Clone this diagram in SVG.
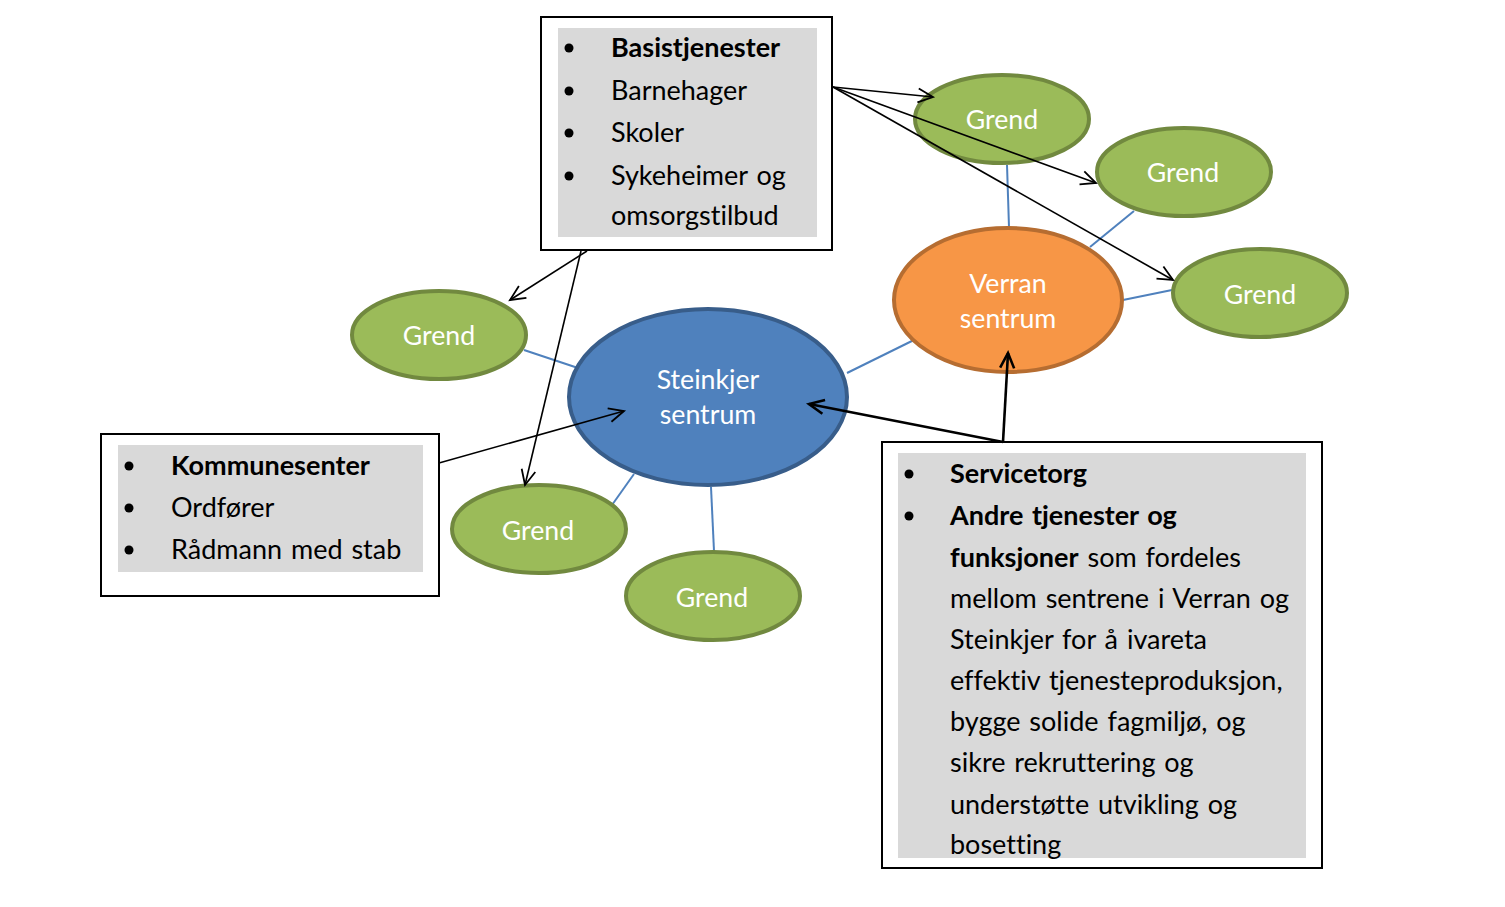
<svg xmlns="http://www.w3.org/2000/svg" width="1505" height="907" viewBox="0 0 1505 907">
<defs>
<marker id="ah" markerUnits="userSpaceOnUse" markerWidth="20" markerHeight="20" refX="16" refY="8" orient="auto" viewBox="0 0 20 16">
<path d="M1,1 L16,8 L1,15" fill="none" stroke="#000" stroke-width="1.8"/>
</marker>
<marker id="ah2" markerUnits="userSpaceOnUse" markerWidth="20" markerHeight="20" refX="16" refY="8" orient="auto" viewBox="0 0 20 16">
<path d="M1,1 L16,8 L1,15" fill="none" stroke="#000" stroke-width="2.6"/>
</marker>
</defs>
<style>
.box{fill:#fff;stroke:#000;stroke-width:2}
.gray{fill:#d9d9d9}
.t{font-family:Lato,"Liberation Sans",sans-serif;font-size:27px;word-spacing:2px;fill:#000;font-variant-ligatures:none}
.b{font-weight:bold}
.bul{fill:#000}
.grend{fill:#9bbb59;stroke:#71893f;stroke-width:4}
.st{fill:#4f81bd;stroke:#385d8a;stroke-width:4}
.vr{fill:#f79646;stroke:#b66d31;stroke-width:4}
.wt{font-family:Lato,"Liberation Sans",sans-serif;font-size:26.7px;fill:#fff;text-anchor:middle}
.blue{stroke:#4f81bd;stroke-width:2;fill:none}
.arr{stroke:#000;stroke-width:1.6;fill:none;marker-end:url(#ah)}
.arr2{stroke:#000;stroke-width:2.6;fill:none;marker-end:url(#ah2)}
</style>
<rect width="1505" height="907" fill="#fff"/>
<g id="connectors-blue">
<line class="blue" x1="524" y1="350" x2="578" y2="368"/>
<line class="blue" x1="612" y1="505" x2="634" y2="474"/>
<line class="blue" x1="711" y1="487" x2="714" y2="551"/>
<line class="blue" x1="847" y1="373" x2="920" y2="337"/>
<line class="blue" x1="1007" y1="165" x2="1009" y2="227"/>
<line class="blue" x1="1134" y1="211" x2="1090" y2="247"/>
<line class="blue" x1="1123" y1="300" x2="1172" y2="290"/>
</g>
<g id="steinkjer">
<ellipse class="st" cx="708" cy="397" rx="139" ry="88"/>
<text class="wt" x="708" y="389">Steinkjer</text>
<text class="wt" x="708" y="424">sentrum</text>
</g>
<g id="verran">
<ellipse class="vr" cx="1008" cy="300" rx="114" ry="72"/>
<text class="wt" x="1008" y="293">Verran</text>
<text class="wt" x="1008" y="328">sentrum</text>
</g>
<g id="grend1"><ellipse class="grend" cx="1002" cy="119" rx="87" ry="44"/><text class="wt" x="1002" y="129">Grend</text></g>
<g id="grend2"><ellipse class="grend" cx="1184" cy="172" rx="87" ry="44"/><text class="wt" x="1183" y="182">Grend</text></g>
<g id="grend3"><ellipse class="grend" cx="1260" cy="293" rx="87" ry="44"/><text class="wt" x="1260" y="304">Grend</text></g>
<g id="grend4"><ellipse class="grend" cx="439" cy="335" rx="87" ry="44"/><text class="wt" x="439" y="345">Grend</text></g>
<g id="grend5"><ellipse class="grend" cx="539" cy="529" rx="87" ry="44"/><text class="wt" x="538" y="540">Grend</text></g>
<g id="grend6"><ellipse class="grend" cx="713" cy="596" rx="87" ry="44"/><text class="wt" x="712" y="607">Grend</text></g>
<g id="box-basis">
<rect class="box" x="541" y="17" width="291" height="233"/>
<rect class="gray" x="558" y="28" width="259" height="209"/>
<circle class="bul" cx="569" cy="48" r="4.5"/>
<circle class="bul" cx="569" cy="91" r="4.5"/>
<circle class="bul" cx="569" cy="133" r="4.5"/>
<circle class="bul" cx="569" cy="176" r="4.5"/>
<text class="t b" x="611" y="57">Basistjenester</text>
<text class="t" x="611" y="100">Barnehager</text>
<text class="t" x="611" y="142">Skoler</text>
<text class="t" x="611" y="185">Sykeheimer og</text>
<text class="t" x="611" y="225">omsorgstilbud</text>
</g>
<g id="box-kommune">
<rect class="box" x="101" y="434" width="338" height="162"/>
<rect class="gray" x="118" y="445" width="305" height="127"/>
<circle class="bul" cx="129" cy="466" r="4.5"/>
<circle class="bul" cx="129" cy="508" r="4.5"/>
<circle class="bul" cx="129" cy="550" r="4.5"/>
<text class="t b" x="171" y="475">Kommunesenter</text>
<text class="t" x="171" y="517">Ordfører</text>
<text class="t" x="171" y="559">Rådmann med stab</text>
</g>
<g id="box-service">
<rect class="box" x="882" y="442" width="440" height="426"/>
<rect class="gray" x="898" y="453" width="408" height="405"/>
<circle class="bul" cx="909" cy="474" r="4.5"/>
<circle class="bul" cx="909" cy="516" r="4.5"/>
<text class="t b" x="950" y="483">Servicetorg</text>
<text class="t b" x="950" y="525">Andre tjenester og</text>
<text class="t" x="950" y="567"><tspan class="b">funksjoner</tspan> som fordeles</text>
<text class="t" x="950" y="608">mellom sentrene i Verran og</text>
<text class="t" x="950" y="649">Steinkjer for å ivareta</text>
<text class="t" x="950" y="690">effektiv tjenesteproduksjon,</text>
<text class="t" x="950" y="731">bygge solide fagmiljø, og</text>
<text class="t" x="950" y="772">sikre rekruttering og</text>
<text class="t" x="950" y="814">understøtte utvikling og</text>
<text class="t" x="950" y="854">bosetting</text>
</g>
<g id="connectors-arrows">
<line class="arr" x1="833" y1="87" x2="933" y2="97"/>
<line class="arr" x1="833" y1="87" x2="1096" y2="183"/>
<line class="arr" x1="833" y1="87" x2="1173" y2="280"/>
<line class="arr" x1="587" y1="251" x2="510" y2="300"/>
<line class="arr" x1="581" y1="251" x2="525" y2="485"/>
<line class="arr" x1="439" y1="463" x2="624" y2="411"/>
<line class="arr2" x1="1003" y1="442" x2="809" y2="404"/>
<line class="arr2" x1="1003" y1="442" x2="1008" y2="353"/>
</g>
</svg>
